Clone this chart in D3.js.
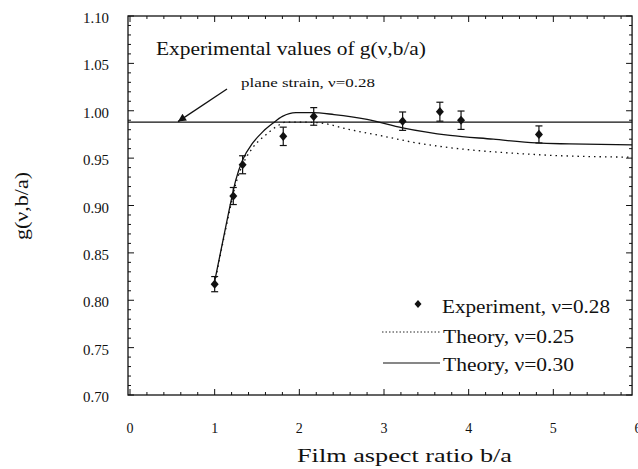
<!DOCTYPE html>
<html><head><meta charset="utf-8">
<script src="https://cdn.jsdelivr.net/npm/d3@7"></script>
<style>body{margin:0;background:#fff}svg{display:block}text{font-family:"Liberation Serif","Times New Roman",serif;fill:#111}</style>
</head><body><svg id="c" width="638" height="469"></svg>
<script>
// Experimental data (nu = 0.28)
const expX = [1.00, 1.22, 1.33, 1.81, 2.17, 3.22, 3.66, 3.91, 4.83];
const expY = [0.817, 0.910, 0.943, 0.973, 0.994, 0.989, 0.999, 0.990, 0.975];
const expErr = [0.008, 0.009, 0.0095, 0.0097, 0.0093, 0.0097, 0.010, 0.0097, 0.009];
// Theory nu = 0.30 (solid)
const th30X = [1.00, 1.10, 1.18, 1.25, 1.33, 1.45, 1.57, 1.69, 1.80, 1.96, 2.15, 2.41, 2.80, 3.22, 3.78, 4.29, 4.80, 5.19, 5.93];
const th30Y = [0.820, 0.864, 0.899, 0.927, 0.948, 0.966, 0.978, 0.987, 0.994, 0.998, 0.998, 0.996, 0.991, 0.982, 0.974, 0.970, 0.966, 0.965, 0.964];
// Theory nu = 0.25 (dotted)
const th25X = [1.00, 1.10, 1.18, 1.25, 1.33, 1.45, 1.61, 1.76, 1.84, 2.00, 2.21, 2.60, 3.00, 3.39, 3.78, 4.17, 4.56, 4.96, 5.93];
const th25Y = [0.818, 0.862, 0.896, 0.923, 0.943, 0.961, 0.975, 0.985, 0.988, 0.988, 0.9875, 0.980, 0.973, 0.966, 0.961, 0.9575, 0.955, 0.953, 0.951];
const planeStrain = 0.988;
const yTicks = [0.70, 0.75, 0.80, 0.85, 0.90, 0.95, 1.00, 1.05, 1.10];
const xTicks = [0, 1, 2, 3, 4, 5, 6];
const legendLabels = ["Experiment, ν=0.28", "Theory, ν=0.25", "Theory, ν=0.30"];

const svg = d3.select("#c");
const x = d3.scaleLinear().domain([0, 6]).range([130, 638]);
const y = d3.scaleLinear().domain([0.70, 1.10]).range([395, 16]);
const xR = x(5.93);
const xL = 128;
const diamond = "M0,-4.6L4,0L0,4.6L-4,0Z";

// frame
svg.append("rect").attr("x", xL).attr("y", y(1.10)).attr("width", xR - xL).attr("height", y(0.70) - y(1.10))
  .attr("fill", "none").attr("stroke", "#111").attr("stroke-width", 1.3);

// ticks (inward) on all sides
const yMinor = d3.range(0.70, 1.1001, 0.01).map(v => +v.toFixed(2));
const yMaj = new Set(yTicks.map(v => v.toFixed(2)));
const g = svg.append("g").attr("stroke", "#111").attr("stroke-width", 1);
yMinor.forEach(v => {
  const L = yMaj.has(v.toFixed(2)) ? 6 : 3;
  g.append("line").attr("x1", xL).attr("x2", xL + L).attr("y1", y(v)).attr("y2", y(v));
  g.append("line").attr("x1", xR).attr("x2", xR - L).attr("y1", y(v)).attr("y2", y(v));
});
const xMinor = d3.range(0, 5.95, 0.2).map(v => +v.toFixed(1));
xMinor.forEach(v => {
  if (x(v) < xL || x(v) > xR) return;
  const L = Number.isInteger(v) ? 6 : 3;
  g.append("line").attr("x1", x(v)).attr("x2", x(v)).attr("y1", y(0.70)).attr("y2", y(0.70) - L);
  g.append("line").attr("x1", x(v)).attr("x2", x(v)).attr("y1", y(1.10)).attr("y2", y(1.10) + L);
});

// tick labels
svg.selectAll(".yl").data(yTicks).enter().append("text")
  .attr("x", 109).attr("y", d => y(d) + 7).attr("text-anchor", "end")
  .attr("font-size", 14).attr("textLength", 26).attr("lengthAdjust", "spacingAndGlyphs")
  .text(d => d.toFixed(2));
svg.selectAll(".xl").data(xTicks).enter().append("text")
  .attr("x", d => x(d)).attr("y", 433).attr("text-anchor", "middle")
  .attr("font-size", 14).text(d => d);

// axis titles
svg.append("text").attr("transform", "translate(28,206) rotate(-90)").attr("text-anchor", "middle")
  .attr("font-size", 18).attr("textLength", 68).attr("lengthAdjust", "spacingAndGlyphs").text("g(ν,b/a)");
svg.append("text").attr("x", 297).attr("y", 462)
  .attr("font-size", 19).attr("textLength", 215).attr("lengthAdjust", "spacingAndGlyphs").text("Film aspect ratio b/a");

// plane strain line
svg.append("line").attr("x1", xL).attr("x2", xR).attr("y1", y(planeStrain)).attr("y2", y(planeStrain))
  .attr("stroke", "#111").attr("stroke-width", 1.3);

const line = d3.line().x(d => x(d[0])).y(d => y(d[1])).curve(d3.curveMonotoneX);
svg.append("path").datum(th25X.map((v, i) => [v, th25Y[i]])).attr("d", line)
  .attr("fill", "none").attr("stroke", "#111").attr("stroke-width", 1.3).attr("stroke-dasharray", "1.5,4");
svg.append("path").datum(th30X.map((v, i) => [v, th30Y[i]])).attr("d", line)
  .attr("fill", "none").attr("stroke", "#111").attr("stroke-width", 1.3);

// error bars and diamonds
const pts = svg.append("g");
expX.forEach((v, i) => {
  const cx = x(v), t = y(expY[i] + expErr[i]), b = y(expY[i] - expErr[i]);
  pts.append("line").attr("x1", cx).attr("x2", cx).attr("y1", t).attr("y2", b).attr("stroke", "#111").attr("stroke-width", 1.2);
  pts.append("line").attr("x1", cx - 3.5).attr("x2", cx + 3.5).attr("y1", t).attr("y2", t).attr("stroke", "#111").attr("stroke-width", 1.2);
  pts.append("line").attr("x1", cx - 3.5).attr("x2", cx + 3.5).attr("y1", b).attr("y2", b).attr("stroke", "#111").attr("stroke-width", 1.2);
});
pts.selectAll("path").data(expX).enter().append("path")
  .attr("transform", (d, i) => `translate(${x(d)},${y(expY[i])})`)
  .attr("d", diamond).attr("fill", "#111");

// title & annotation
svg.append("text").attr("x", 156).attr("y", 55).attr("font-size", 18)
  .attr("textLength", 270).attr("lengthAdjust", "spacingAndGlyphs").text("Experimental values of g(ν,b/a)");
svg.append("text").attr("x", 241).attr("y", 87).attr("font-size", 13)
  .attr("textLength", 134).attr("lengthAdjust", "spacingAndGlyphs").text("plane strain, ν=0.28");
svg.append("defs").append("marker").attr("id", "ah").attr("viewBox", "0 0 10 10").attr("refX", 10).attr("refY", 5)
  .attr("markerWidth", 11).attr("markerHeight", 8).attr("markerUnits", "userSpaceOnUse").attr("orient", "auto")
  .append("path").attr("d", "M0,0 L10,5 L0,10 z").attr("fill", "#111");
svg.append("line").attr("x1", 227).attr("y1", 89).attr("x2", 178).attr("y2", y(planeStrain) - 0.5)
  .attr("stroke", "#111").attr("stroke-width", 1.3).attr("marker-end", "url(#ah)");

// legend
const lg = svg.append("g");
lg.append("path").attr("transform", "translate(418,304)").attr("d", "M0,-4L3.5,0L0,4L-3.5,0Z").attr("fill", "#111");
lg.append("line").attr("x1", 382).attr("x2", 440).attr("y1", 332).attr("y2", 332).attr("stroke", "#111").attr("stroke-width", 0.9).attr("stroke-dasharray", "1.5,2");
lg.append("line").attr("x1", 383).attr("x2", 440).attr("y1", 363).attr("y2", 363).attr("stroke", "#111").attr("stroke-width", 1.2);
const lgX = [442, 443, 443], lgY = [313, 343, 371], lgW = [168, 131, 131];
legendLabels.forEach((t, i) => {
  lg.append("text").attr("x", lgX[i]).attr("y", lgY[i]).attr("font-size", 18)
    .attr("textLength", lgW[i]).attr("lengthAdjust", "spacingAndGlyphs").text(t);
});
</script></body></html>
